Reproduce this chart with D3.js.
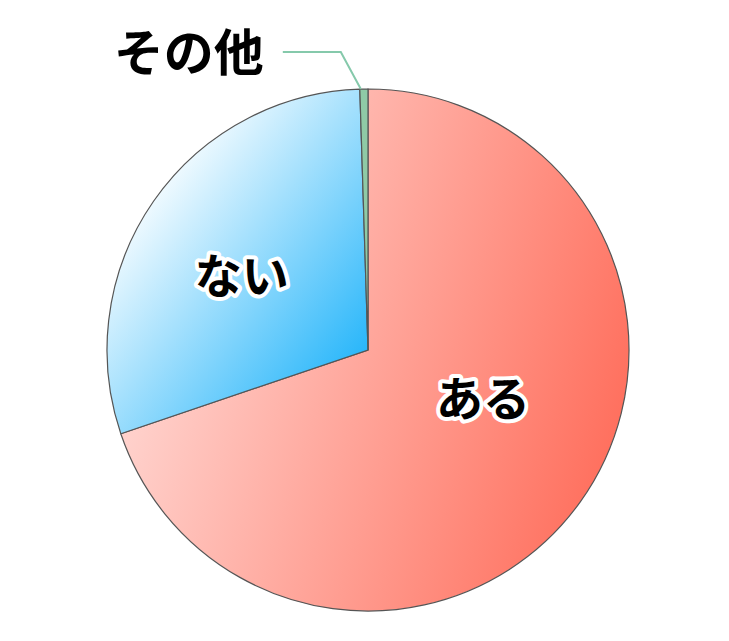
<!DOCTYPE html>
<html>
<head>
<meta charset="utf-8">
<script src="https://cdn.jsdelivr.net/npm/d3@7"></script>
<style>
  body { margin: 0; background: #fff; }
  svg text { font-family: "Noto Sans CJK JP", sans-serif; font-weight: 700; }
</style>
</head>
<body>
<script>
const categories = ["ある", "ない", "その他"];
const values = [69.8, 29.7, 0.5];
const colorsFrom = ["#ffdcd8", "#ffffff", "#8fcaa6"];
const colorsTo = ["#ff6e5c", "#22b4fa", "#8fcaa6"];

const width = 729,
      height = 641,
      cx = 368,
      cy = 350,
      radius = 261;

function createPie() {
    let svg = d3.select("body")
        .append("svg")
        .attr("width", width)
        .attr("height", height);

    let data = categories.map(function (c, i) { return {name: c, value: values[i]}; });

    let pie = d3.pie().sort(null).value(function (d) { return d.value; });
    let arcs = pie(data);
    let arc = d3.arc().innerRadius(0).outerRadius(radius);

    let defs = svg.append("defs");
    let g = svg.append("g").attr("transform", "translate(" + cx + "," + cy + ")");

    let paths = g.selectAll(".slice")
        .data(arcs)
        .enter()
        .append("path")
        .attr("class", "slice")
        .attr("d", arc)
        .attr("stroke", "#555")
        .attr("stroke-width", 1.2);

    // gradient per slice over its own box; the big one runs almost left to right
    let tilt = [0.35, 0.2, 0.5];
    let start = [0, 0.12, 0];
    paths.each(function (d, i) {
        let b = this.getBBox();
        let grad = defs.append("linearGradient")
            .attr("id", "grad" + i)
            .attr("gradientUnits", "userSpaceOnUse")
            .attr("x1", b.x).attr("y1", b.y + b.height * tilt[i])
            .attr("x2", b.x + b.width).attr("y2", b.y + b.height * (1 - tilt[i]));
        grad.append("stop").attr("offset", start[i]).attr("stop-color", colorsFrom[i]);
        grad.append("stop").attr("offset", 1).attr("stop-color", colorsTo[i]);
        d3.select(this).attr("fill", "url(#grad" + i + ")");
    });

    let labelArc = d3.arc().innerRadius(radius * 0.5).outerRadius(radius * 0.5);
    let offsets = [[9, -31], [-19, -3]];
    arcs.slice(0, 2).forEach(function (d, i) {
        let c = labelArc.centroid(d);
        let pos = [c[0] + offsets[i][0], c[1] + offsets[i][1]];
        [true, false].forEach(function (halo) {
            let t = g.append("text")
                .attr("x", pos[0]).attr("y", pos[1])
                .attr("text-anchor", "middle")
                .attr("dominant-baseline", "central")
                .attr("font-size", 47)
                .attr("fill", halo ? "#fff" : "#000")
                .text(d.data.name);
            if (halo) {
                t.attr("stroke", "#fff")
                 .attr("stroke-width", 8)
                 .attr("stroke-linejoin", "round");
            }
        });
    });

    // small slice: leader line out to the left
    let small = arcs[2];
    let mid = (small.startAngle + small.endAngle) / 2;
    let p0 = [Math.sin(small.startAngle) * radius + 1, -Math.cos(mid) * radius];
    let p1 = [p0[0] - 20, -298];
    let p2 = [p1[0] - 58, -298];
    g.append("polyline")
        .attr("points", [p0, p1, p2].map(function (p) { return p.join(","); }).join(" "))
        .attr("fill", "none")
        .attr("stroke", "#85c9ab")
        .attr("stroke-width", 2);
    g.append("text")
        .attr("x", p2[0] - 19).attr("y", p2[1] - 3)
        .attr("text-anchor", "end")
        .attr("dominant-baseline", "central")
        .attr("font-size", 50)
        .attr("font-weight", 500)
        .attr("fill", "#000")
        .text(small.data.name);
}

window.onload = createPie;
</script>
</body>
</html>
